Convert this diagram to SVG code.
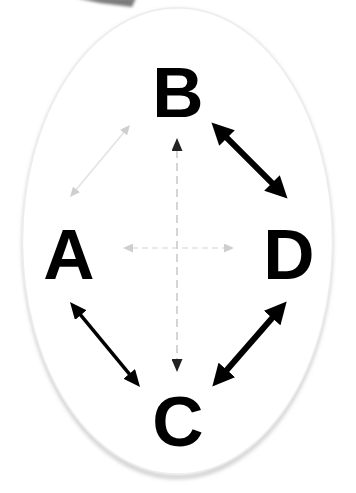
<svg xmlns="http://www.w3.org/2000/svg" width="356" height="493" viewBox="0 0 356 493">
  <style>
    .lbl { font-family: "Liberation Sans", Arial, sans-serif; font-weight: bold; font-size: 71px; fill: #000; text-anchor: middle; }
    .thick { stroke: #000; fill: none; }
    .faint { stroke: #e2e2e2; fill: none; stroke-width: 1.5; }
  </style>
  <defs>
    <filter id="blur2" x="-20%" y="-20%" width="140%" height="140%">
      <feGaussianBlur stdDeviation="2"/>
    </filter>
    <filter id="blur1" x="-50%" y="-200%" width="200%" height="500%">
      <feGaussianBlur stdDeviation="1.5"/>
    </filter>
    <marker id="bigHead" markerUnits="userSpaceOnUse" viewBox="0 0 22 22" refX="2" refY="11" markerWidth="22" markerHeight="22" orient="auto-start-reverse">
      <path d="M0,0 L22,11 L0,22 z" fill="#000"/>
    </marker>
    <marker id="midHead" markerUnits="userSpaceOnUse" viewBox="0 0 17 15" refX="2" refY="7.5" markerWidth="17" markerHeight="15" orient="auto-start-reverse">
      <path d="M0,0 L17,7.5 L0,15 z" fill="#000"/>
    </marker>
    <marker id="smallDark" markerUnits="userSpaceOnUse" viewBox="0 0 13 11" refX="1" refY="5.5" markerWidth="13" markerHeight="11" orient="auto-start-reverse">
      <path d="M0,0 L13,5.5 L0,11 z" fill="#222"/>
    </marker>
    <marker id="smallGray" markerUnits="userSpaceOnUse" viewBox="0 0 10 9" refX="1" refY="4.5" markerWidth="10" markerHeight="9" orient="auto-start-reverse">
      <path d="M0,0 L10,4.5 L0,9 z" fill="#cfcfcf"/>
    </marker>
  </defs>

  <rect width="356" height="493" fill="#fff"/>

  <!-- cut-off grey shape at top -->
  <polygon points="76,-2 136,-2 132,7 100,3" fill="#7a7a7a" filter="url(#blur1)"/>

  <!-- ellipse background -->
  <g id="background">
    <ellipse cx="177.5" cy="244" rx="153.5" ry="233" fill="none" stroke="#b8b8b8" stroke-width="3" filter="url(#blur2)"/>
    <ellipse cx="177.5" cy="241" rx="155" ry="233" fill="#fff" stroke="#ededed" stroke-width="1.5"/>
  </g>

  <g id="connectors">
    <!-- B <-> D -->
    <path class="thick" d="M225.6,136.6 L273.4,184.4" stroke-width="6" marker-start="url(#bigHead)" marker-end="url(#bigHead)"/>
    <!-- A <-> C -->
    <path class="thick" d="M79.5,313.6 L130.5,375.4" stroke-width="3.5" marker-start="url(#midHead)" marker-end="url(#midHead)"/>
    <!-- D <-> C -->
    <path class="thick" d="M273.5,316.6 L225.5,371.4" stroke-width="6" marker-start="url(#bigHead)" marker-end="url(#bigHead)"/>
    <!-- B <-> A faint -->
    <path class="faint" d="M124.2,131.9 L75.8,190.1" marker-start="url(#smallGray)" marker-end="url(#smallGray)"/>
    <!-- A <-> D faint dashed -->
    <path class="faint" d="M132,248 L225,248" stroke-dasharray="6 4" marker-start="url(#smallGray)" marker-end="url(#smallGray)"/>
    <!-- B <-> C dashed -->
    <path d="M177,150 L177,360" fill="none" stroke="#c8c8c8" stroke-width="1.5" stroke-dasharray="8 5" marker-start="url(#smallDark)" marker-end="url(#smallDark)"/>
  </g>

  <g id="node-B"><text class="lbl" x="178" y="117">B</text></g>
  <g id="node-A"><text class="lbl" x="69" y="279">A</text></g>
  <g id="node-D"><text class="lbl" x="289" y="279">D</text></g>
  <g id="node-C"><text class="lbl" x="178" y="446">C</text></g>
</svg>
